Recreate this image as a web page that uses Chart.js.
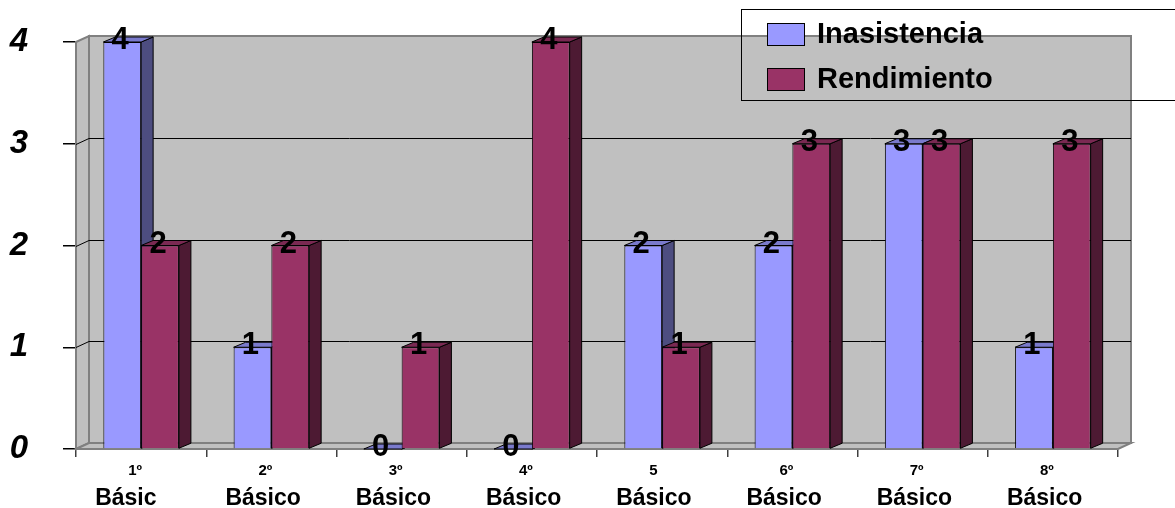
<!DOCTYPE html>
<html>
<head>
<meta charset="utf-8">
<script src="https://cdn.jsdelivr.net/npm/chart.js@4/dist/chart.umd.min.js"></script>
<style>
  body { margin: 0; background: #fff; }
</style>
</head>
<body>
<canvas id="myChart" width="1175" height="508"></canvas>
<script>
let gradeTop = ["1º", "2º", "3º", "4º", "5", "6º", "7º", "8º"];
let gradeBottom = ["Básic", "Básico", "Básico", "Básico", "Básico", "Básico", "Básico", "Básico"];
let inasistencia = [4, 1, 0, 0, 2, 2, 3, 1];
let rendimiento = [2, 2, 1, 4, 1, 3, 3, 3];
let yTicks = [0, 1, 2, 3, 4];

const FONT = 'Arial, "Liberation Sans", sans-serif';
// depth of the walls and of the columns (fake 3d)
const DX = 13, DY = -6;
const BX = 12, BY = -5;

// side / top shades for each series
let shades = [
    { top: "#7a7acc", side: "#4d4d80" },
    { top: "#7a2952", side: "#4d1a33" }
];

function poly(c, pts) {
    c.beginPath();
    c.moveTo(pts[0][0], pts[0][1]);
    for (let i = 1; i < pts.length; i++) c.lineTo(pts[i][0], pts[i][1]);
    c.closePath();
    c.fill();
    c.stroke();
}

let box3d = {
    id: "box3d",
    beforeDatasetsDraw(chart) {
        let c = chart.ctx, a = chart.chartArea, ys = chart.scales.y;
        c.save();
        c.fillStyle = "#c0c0c0";
        c.strokeStyle = "#808080";
        c.lineWidth = 2;
        // back wall, left wall, floor
        poly(c, [[a.left + DX, a.top + DY], [a.right + DX, a.top + DY], [a.right + DX, a.bottom + DY], [a.left + DX, a.bottom + DY]]);
        poly(c, [[a.left, a.top], [a.left + DX, a.top + DY], [a.left + DX, a.bottom + DY], [a.left, a.bottom]]);
        poly(c, [[a.left, a.bottom], [a.right, a.bottom], [a.right + DX, a.bottom + DY], [a.left + DX, a.bottom + DY]]);

        // gridlines on the back wall
        c.strokeStyle = "#000";
        c.lineWidth = 1;
        yTicks.forEach(v => {
            if (v <= ys.min || v >= ys.max) return;
            let py = Math.round(ys.getPixelForValue(v)) + 0.5;
            c.beginPath();
            c.moveTo(a.left, py);
            c.lineTo(a.left + DX, py + DY);
            c.lineTo(a.right + DX, py + DY);
            c.stroke();
        });

        // top and side faces of the columns
        c.strokeStyle = "#000";
        c.lineWidth = 1;
        chart.data.datasets.forEach((ds, di) => {
            let meta = chart.getDatasetMeta(di);
            meta.data.forEach(bar => {
                let l = bar.x - bar.width / 2, r = bar.x + bar.width / 2;
                let t = bar.y, b = bar.base;
                c.fillStyle = shades[di].side;
                poly(c, [[r, t], [r + BX, t + BY], [r + BX, b + BY], [r, b]]);
                c.fillStyle = shades[di].top;
                poly(c, [[l, t], [l + BX, t + BY], [r + BX, t + BY], [r, t]]);
            });
        });
        c.restore();
    },
    afterDatasetsDraw(chart) {
        let c = chart.ctx;
        c.save();
        c.fillStyle = "#000";
        c.textAlign = "center";
        c.textBaseline = "alphabetic";
        c.font = "bold 31px " + FONT;
        chart.data.datasets.forEach((ds, di) => {
            chart.getDatasetMeta(di).data.forEach((bar, i) => {
                c.fillText(String(ds.data[i]), bar.x - 2, bar.y + 7);
            });
        });
        c.restore();
    },
    afterDraw(chart) {
        let c = chart.ctx, xs = chart.scales.x;
        c.save();
        c.fillStyle = "#000";
        c.textAlign = "left";
        c.textBaseline = "alphabetic";
        // two line category labels
        gradeTop.forEach((lab, i) => {
            let cx = xs.getPixelForValue(i);
            c.font = "bold 15px " + FONT;
            c.fillText(lab, cx - 13, 475);
            c.font = "bold 23px " + FONT;
            c.fillText(gradeBottom[i], cx - 46, 505);
        });

        // legend (transparent box that runs off the right edge)
        c.strokeStyle = "#000";
        c.lineWidth = 1;
        c.strokeRect(741.5, 9.5, 500, 91);
        c.font = "bold 29px " + FONT;
        chart.data.datasets.forEach((ds, di) => {
            let top = 23 + di * 45;
            c.fillStyle = ds.backgroundColor;
            c.fillRect(767, top, 38, 23);
            c.strokeRect(767.5, top + 0.5, 37, 22);
            c.fillStyle = "#000";
            c.fillText(ds.label, 817, top + 20);
        });
        c.restore();
    }
};

let ctx = document.getElementById("myChart").getContext("2d");

let chart = new Chart(ctx, {
    type: "bar",
    data: {
        labels: gradeTop,
        datasets: [
            {
                label: "Inasistencia",
                data: inasistencia,
                backgroundColor: "#9999ff",
                borderColor: "#000",
                borderWidth: 1,
                barPercentage: 1,
                categoryPercentage: 0.58
            },
            {
                label: "Rendimiento",
                data: rendimiento,
                backgroundColor: "#993366",
                borderColor: "#000",
                borderWidth: 1,
                barPercentage: 1,
                categoryPercentage: 0.58
            }
        ]
    },
    options: {
        responsive: false,
        animation: false,
        devicePixelRatio: 1,
        layout: { padding: { left: 0, top: 42, right: 57, bottom: 0 } },
        plugins: {
            legend: { display: false },
            tooltip: { enabled: false }
        },
        scales: {
            x: {
                afterFit: s => { s.height = 59; s.paddingLeft = 0; s.paddingRight = 0; },
                ticks: { display: false },
                grid: { drawOnChartArea: false, drawTicks: true, tickLength: 8, color: "#404040", lineWidth: 1.5 },
                border: { display: true, color: "#404040", width: 1.5 }
            },
            y: {
                min: 0,
                max: 4,
                afterFit: s => { s.width = 76; s.paddingTop = 0; s.paddingBottom = 0; },
                afterBuildTicks: s => { s.ticks = yTicks.map(v => ({ value: v })); },
                ticks: {
                    padding: 35,
                    color: "#000",
                    font: { family: FONT, size: 33, weight: "bold", style: "italic" }
                },
                grid: { drawOnChartArea: false, drawTicks: true, tickLength: 13, color: "#000", lineWidth: 1.5 },
                border: { display: true, color: "#808080", width: 2 }
            }
        }
    },
    plugins: [box3d]
});
</script>
</body>
</html>
